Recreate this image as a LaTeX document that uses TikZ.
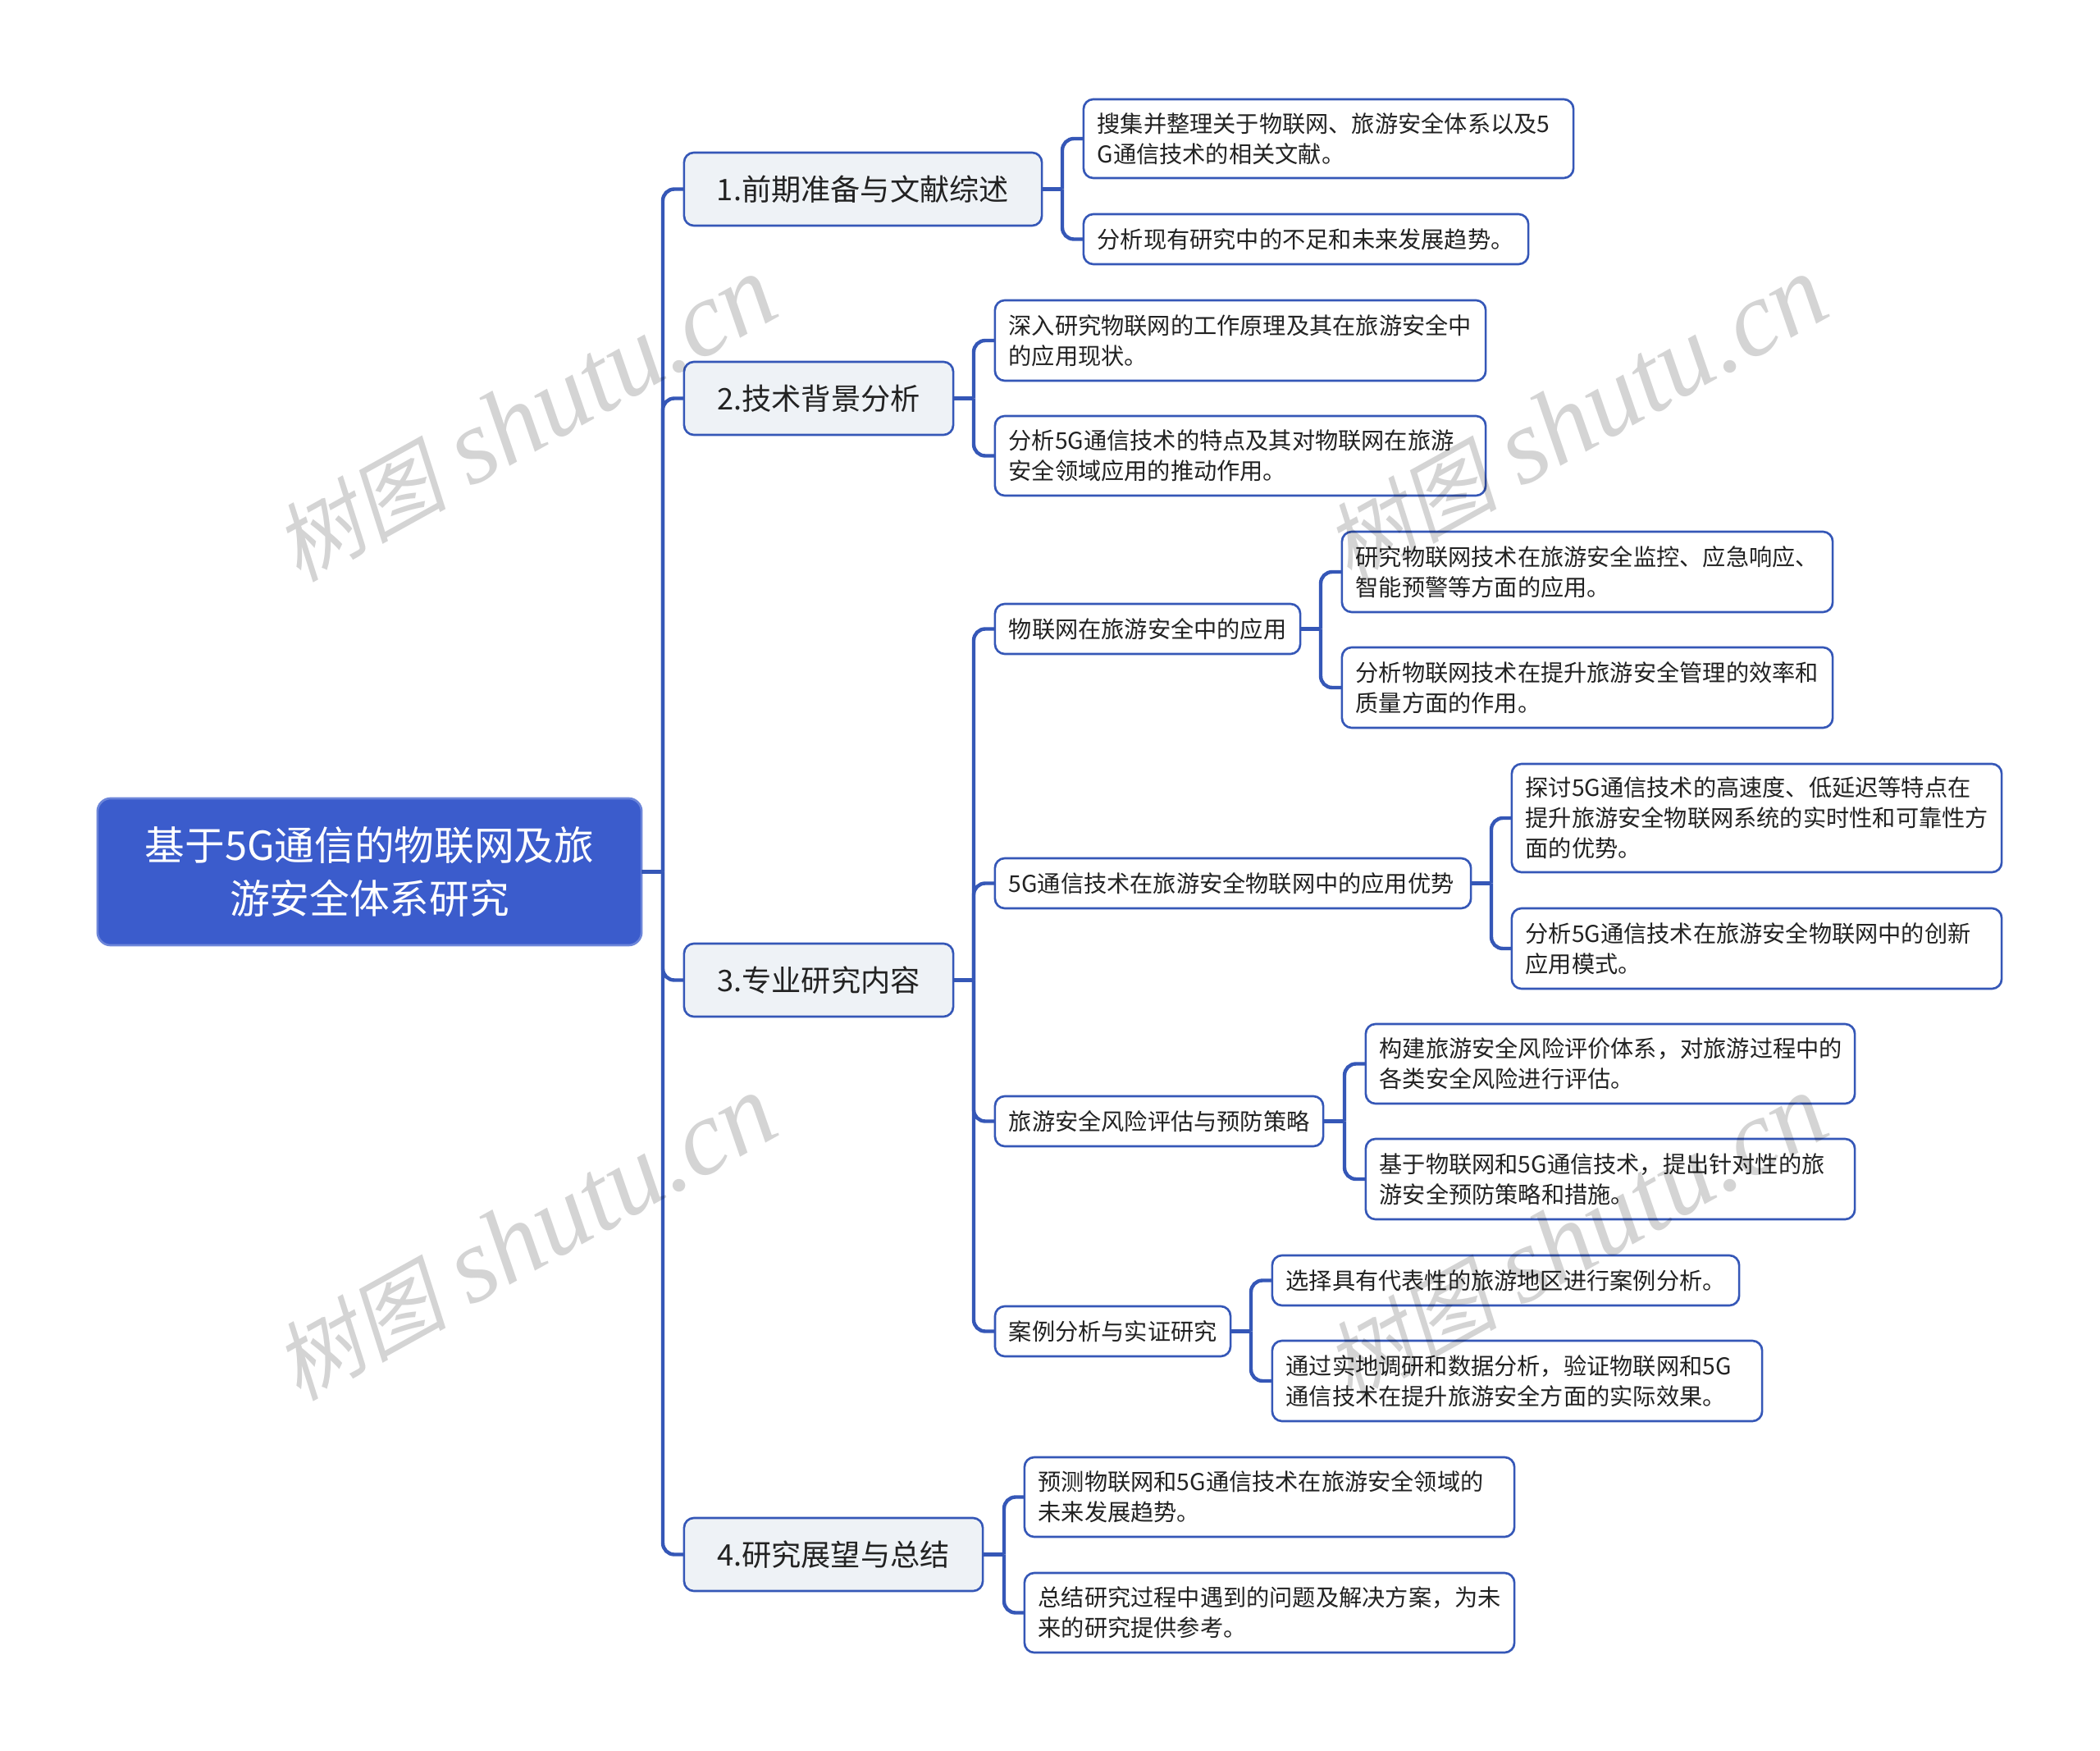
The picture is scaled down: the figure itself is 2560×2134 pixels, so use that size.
\documentclass[tikz,border=0pt]{standalone}
\usepackage{fontspec}
\setmainfont{Noto Sans CJK SC}
\newfontfamily\wmcjk[FakeSlant=0.2]{Noto Sans CJK SC}
\newfontfamily\wmlat{Liberation Serif}
\definecolor{linec}{HTML}{3557B7}
\definecolor{rootc}{HTML}{3B5CCC}
\definecolor{topicc}{HTML}{EEF2F6}
\definecolor{textc}{HTML}{222222}
\tikzset{
  x=0.01cm,y=-0.01cm,
  basebox/.style={draw=linec,rounded corners=0.12cm,outer sep=0pt,inner ysep=0pt,inner xsep=4.8pt,line width=0.75pt,text=textc},
  rootbox/.style={basebox,fill=rootc,draw=rootc!75!white,text=white,align=center,rounded corners=0.16cm,font=\fontsize{13.85}{18.5}\selectfont},
  topicbox/.style={basebox,fill=topicc,align=center,font=\fontsize{10.3}{13}\selectfont},
  leafbox/.style={basebox,fill=white,align=left,font=\fontsize{8.02}{10.5}\selectfont},
  conn/.style={draw=linec,line width=1.25pt,rounded corners=0.14cm},
  wmark/.style={rotate=29,text=black,opacity=0.17},
}
\newcommand\mybox[7]{%
  \pgfmathsetmacro\bw{(#4-#2)*0.2845}%
  \pgfmathsetmacro\bh{(#5-#3)*0.2845}%
  \pgfmathsetmacro\tw{\bw-9.6}%
  \node[#6,minimum width=\bw pt,minimum height=\bh pt,text width=\tw pt] (#1) at ({(#2+#4)/2},{(#3+#5)/2}) {#7};%
}
\newcommand\trunk[3]{\draw[conn] (#1.east) -- (#1.east -| #2);\foreach \kid in {#3}{\draw[conn] (#1.east -| #2) |- (\kid.west);}}
\newcommand\wmtext{{\fontsize{30}{32}\selectfont\wmcjk 树图}\hspace{8pt}{\fontsize{37}{38}\selectfont\wmlat\itshape shutu.cn}}
\begin{document}
\begin{tikzpicture}
\fill[white] (0,0) rectangle (2560,2134);
\useasboundingbox (0,0) rectangle (2560,2134);
\mybox{root}{119}{973}{782}{1152}{rootbox}{基于5G通信的物联网及旅\\游安全体系研究}
\mybox{t1}{834}{186}{1270}{275}{topicbox}{1.前期准备与文献综述}
\mybox{t2}{834}{441}{1162}{530}{topicbox}{2.技术背景分析}
\mybox{t3}{834}{1150}{1162}{1239}{topicbox}{3.专业研究内容}
\mybox{t4}{834}{1850}{1198}{1939}{topicbox}{4.研究展望与总结}
\mybox{a1}{1321}{121}{1918}{217}{leafbox}{搜集并整理关于物联网、旅游安全体系以及5\\G通信技术的相关文献。}
\mybox{a2}{1321}{261}{1863}{322}{leafbox}{分析现有研究中的不足和未来发展趋势。}
\mybox{b1}{1213}{366}{1811}{464}{leafbox}{深入研究物联网的工作原理及其在旅游安全中\\的应用现状。}
\mybox{b2}{1213}{507}{1811}{604}{leafbox}{分析5G通信技术的特点及其对物联网在旅游\\安全领域应用的推动作用。}
\mybox{c1}{1213}{736}{1585}{797}{leafbox}{物联网在旅游安全中的应用}
\mybox{c2}{1213}{1046}{1793}{1107}{leafbox}{5G通信技术在旅游安全物联网中的应用优势}
\mybox{c3}{1213}{1336}{1613}{1397}{leafbox}{旅游安全风险评估与预防策略}
\mybox{c4}{1213}{1592}{1500}{1653}{leafbox}{案例分析与实证研究}
\mybox{c11}{1636}{648}{2234}{746}{leafbox}{研究物联网技术在旅游安全监控、应急响应、\\智能预警等方面的应用。}
\mybox{c12}{1636}{789}{2234}{887}{leafbox}{分析物联网技术在提升旅游安全管理的效率和\\质量方面的作用。}
\mybox{c21}{1843}{931}{2440}{1063}{leafbox}{探讨5G通信技术的高速度、低延迟等特点在\\提升旅游安全物联网系统的实时性和可靠性方\\面的优势。}
\mybox{c22}{1843}{1107}{2440}{1205}{leafbox}{分析5G通信技术在旅游安全物联网中的创新\\应用模式。}
\mybox{c31}{1665}{1248}{2261}{1345}{leafbox}{构建旅游安全风险评价体系，对旅游过程中的\\各类安全风险进行评估。}
\mybox{c32}{1665}{1388}{2261}{1486}{leafbox}{基于物联网和5G通信技术，提出针对性的旅\\游安全预防策略和措施。}
\mybox{c41}{1551}{1530}{2120}{1591}{leafbox}{选择具有代表性的旅游地区进行案例分析。}
\mybox{c42}{1551}{1634}{2148}{1732}{leafbox}{通过实地调研和数据分析，验证物联网和5G\\通信技术在提升旅游安全方面的实际效果。}
\mybox{d1}{1249}{1776}{1846}{1873}{leafbox}{预测物联网和5G通信技术在旅游安全领域的\\未来发展趋势。}
\mybox{d2}{1249}{1917}{1846}{2014}{leafbox}{总结研究过程中遇到的问题及解决方案，为未\\来的研究提供参考。}
\coordinate (x0) at (808,0);
\coordinate (x1) at (1295,0);
\coordinate (x2) at (1187,0);
\coordinate (x3) at (1187,0);
\coordinate (x4) at (1224,0);
\coordinate (x5) at (1610,0);
\coordinate (x6) at (1818,0);
\coordinate (x7) at (1639,0);
\coordinate (x8) at (1525,0);
\trunk{root}{x0}{t1,t2,t3,t4}
\trunk{t1}{x1}{a1,a2}
\trunk{t2}{x2}{b1,b2}
\trunk{t3}{x3}{c1,c2,c3,c4}
\trunk{t4}{x4}{d1,d2}
\trunk{c1}{x5}{c11,c12}
\trunk{c2}{x6}{c21,c22}
\trunk{c3}{x7}{c31,c32}
\trunk{c4}{x8}{c41,c42}
\node[wmark] (w1) at (640,511) {\wmtext};
\node[wmark] (w2) at (1921,511) {\wmtext};
\node[wmark] (w3) at (640,1509) {\wmtext};
\node[wmark] (w4) at (1921,1509) {\wmtext};
\end{tikzpicture}
\end{document}
